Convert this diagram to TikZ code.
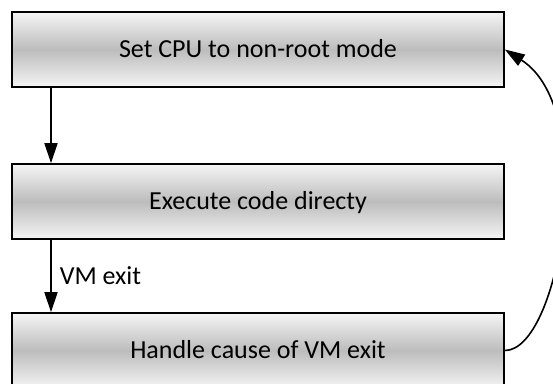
\documentclass[tikz,border=0pt]{standalone}
\usepackage{fontspec}
\setmainfont{Carlito}
\usetikzlibrary{arrows.meta}
\begin{document}
\begin{tikzpicture}[x=1pt,y=-1pt,
  procbox/.style={draw=black, line width=1.6pt, minimum width=492pt, minimum height=75pt,
    top color=black!4, bottom color=black!4, middle color=black!26,
    font=\fontsize{26}{30}\selectfont, inner sep=0pt, text depth=2pt},
  conn/.style={line width=1.6pt, -{Triangle[length=20pt,width=13pt]}},
  lbl/.style={font=\fontsize{26}{30}\selectfont, anchor=west, inner sep=0pt}]
\useasboundingbox (0,0) rectangle (553,383);
\node[procbox] (set) at (258,49.5) {Set CPU to non-root mode};
\node[procbox] (exec) at (258,201.5) {Execute code directy};
\node[procbox] (handle) at (258,350.5) {Handle cause of VM exit};
\coordinate (a1) at (51,87);
\draw[conn] (a1) -- (a1 |- exec.north);
\coordinate (a2) at (51,239);
\draw[conn] (a2) -- (a2 |- handle.north) node[lbl, pos=0.5, xshift=8pt] (vm) {VM exit};
\draw[conn] (handle.east) .. controls (560,351) and (600,110) .. (set.east);
\end{tikzpicture}
\end{document}
